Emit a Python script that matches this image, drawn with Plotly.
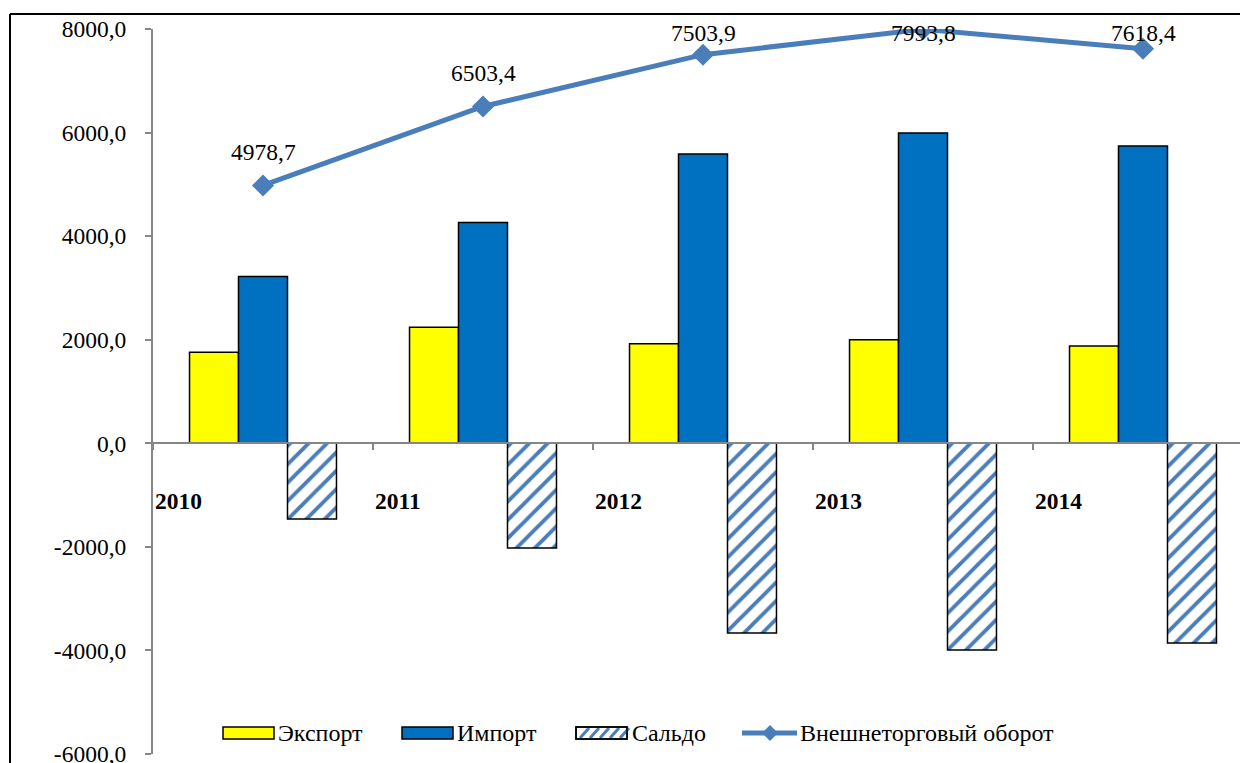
import plotly.graph_objects as go

years = ["2010", "2011", "2012", "2013", "2014"]
export_vals = [1758.7, 2240.0, 1920.0, 2000.0, 1880.0]
import_vals = [3220.0, 4263.4, 5583.9, 5993.8, 5738.4]
saldo_vals = [-1461.3, -2023.4, -3663.9, -3993.8, -3858.4]
turnover_vals = [4978.7, 6503.4, 7503.9, 7993.8, 7618.4]
turnover_labels = ["4978,7", "6503,4", "7503,9", "7993,8", "7618,4"]
series_names = ["Экспорт", "Импорт", "Сальдо", "Внешнеторговый оборот"]
y_ticks = [-6000, -4000, -2000, 0, 2000, 4000, 6000, 8000]
y_ticktext = ["-6000,0", "-4000,0", "-2000,0", "0,0", "2000,0", "4000,0", "6000,0", "8000,0"]

FONT = "Liberation Serif"
LINE_BLUE = "#4A7EBB"
YELLOW = "#FFFF00"
BLUE = "#0070C0"
xs = list(range(len(years)))

# page body has an 8px margin; figure is sized so it ends at the window edge
OFF = 8
W, H = 1248 - OFF, 763 - OFF
PL, PT, PB = 153, 29, 754          # plot area in window pixels
PR = 1248
ml, mt = PL - OFF, PT - OFF
mb = 763 - PB
pw, ph = PR - PL, PB - PT


def px(x):
    return (x - PL) / pw


def py(y):
    return (PB - y) / ph


fig = go.Figure()
fig.add_trace(go.Bar(x=xs, y=export_vals, name=series_names[0],
                     marker=dict(color=YELLOW, line=dict(color="black", width=1.5))))
fig.add_trace(go.Bar(x=xs, y=import_vals, name=series_names[1],
                     marker=dict(color=BLUE, line=dict(color="black", width=1.5))))
fig.add_trace(go.Bar(x=xs, y=saldo_vals, name=series_names[2],
                     marker=dict(color="white", line=dict(color="black", width=1.5),
                                 pattern=dict(shape="/", fgcolor=LINE_BLUE, bgcolor="white",
                                              fgopacity=1, size=13, solidity=0.3))))
fig.add_trace(go.Scatter(x=xs, y=turnover_vals, name=series_names[3],
                         mode="lines+markers",
                         line=dict(color=LINE_BLUE, width=5),
                         marker=dict(symbol="diamond", size=17, color=LINE_BLUE)))

annotations = []
for i, (v, t) in enumerate(zip(turnover_vals, turnover_labels)):
    annotations.append(dict(x=i, y=min(v + 640, 7915), text=t, showarrow=False,
                            font=dict(family=FONT, size=23.5, color="black"),
                            xanchor="center", yanchor="middle"))
for i, yr in enumerate(years):
    annotations.append(dict(x=i - 0.5, y=-1120, text="<b>" + yr + "</b>", showarrow=False,
                            font=dict(family=FONT, size=23.5, color="black"),
                            xanchor="left", yanchor="middle", xshift=0))

# manual legend (Excel-style wide swatches)
LEG_Y = 733
shapes = []
swatches = [(223, YELLOW), (402, BLUE), (576, "white")]
text_x = [279, 458, 633, 801]
for (x0, col) in swatches:
    shapes.append(dict(type="rect", xref="paper", yref="paper",
                       x0=px(x0), x1=px(x0 + 51), y0=py(LEG_Y + 6), y1=py(LEG_Y - 6),
                       fillcolor=col, line=dict(color="black", width=1.5), layer="above"))
# hatch for Сальдо swatch
for k in range(5):
    sx = 576 + 4 + k * 10
    shapes.append(dict(type="line", xref="paper", yref="paper",
                       x0=px(sx), x1=px(sx + 9), y0=py(LEG_Y + 5), y1=py(LEG_Y - 5),
                       line=dict(color=LINE_BLUE, width=3), layer="above"))
shapes.append(dict(type="rect", xref="paper", yref="paper",
                   x0=px(576), x1=px(627), y0=py(LEG_Y + 6), y1=py(LEG_Y - 6),
                   fillcolor="rgba(0,0,0,0)", line=dict(color="black", width=1.5), layer="above"))
shapes.append(dict(type="line", xref="paper", yref="paper",
                   x0=px(742), x1=px(797), y0=py(LEG_Y), y1=py(LEG_Y),
                   line=dict(color=LINE_BLUE, width=5), layer="above"))
dcx, dcy, dh = 770, LEG_Y, 8
shapes.append(dict(type="path", xref="paper", yref="paper",
                   path=f"M {px(dcx - dh)} {py(dcy)} L {px(dcx)} {py(dcy - dh)} "
                        f"L {px(dcx + dh)} {py(dcy)} L {px(dcx)} {py(dcy + dh)} Z",
                   fillcolor=LINE_BLUE, line=dict(color=LINE_BLUE, width=0), layer="above"))
for tx, name in zip(text_x, series_names):
    annotations.append(dict(xref="paper", yref="paper", x=px(tx - 3), y=py(LEG_Y),
                            text=name, showarrow=False, xanchor="left", yanchor="middle",
                            font=dict(family=FONT, size=24, color="black")))

# outer chart border (top and left edges visible)
bx, by = px(10), py(14)
shapes.append(dict(type="line", xref="paper", yref="paper", x0=bx, x1=bx, y0=-0.2, y1=by,
                   line=dict(color="black", width=2)))
shapes.append(dict(type="line", xref="paper", yref="paper", x0=bx, x1=1.2, y0=by, y1=by,
                   line=dict(color="black", width=2)))

fig.update_layout(
    width=W, height=H,
    margin=dict(l=ml, r=0, t=mt, b=mb, autoexpand=False),
    paper_bgcolor="white", plot_bgcolor="white",
    barmode="group", bargap=0.332, bargroupgap=0,
    font=dict(family=FONT, size=23.5, color="black"),
    showlegend=False,
    xaxis=dict(range=[-0.5, 4.5 - 5 / 220], tickvals=[-0.5, 0.5, 1.5, 2.5, 3.5, 4.5],
               ticktext=["", "", "", "", "", ""], ticks="outside", ticklen=6,
               tickcolor="#868686", tickwidth=2, showline=True, linecolor="#868686",
               linewidth=2, anchor="free", position=py(443),
               showgrid=False, zeroline=False),
    yaxis=dict(range=[-6000, 8000], tickvals=y_ticks, ticktext=y_ticktext,
               ticks="outside", ticklen=6, tickcolor="#868686", tickwidth=2,
               showline=True, linecolor="#868686", linewidth=2,
               showgrid=False, zeroline=False, ticklabelstandoff=14,
               ticklabeloverflow="allow",
               tickfont=dict(family=FONT, size=23.5, color="black")),
    annotations=annotations,
    shapes=shapes,
)

fig.write_html("out.html")
